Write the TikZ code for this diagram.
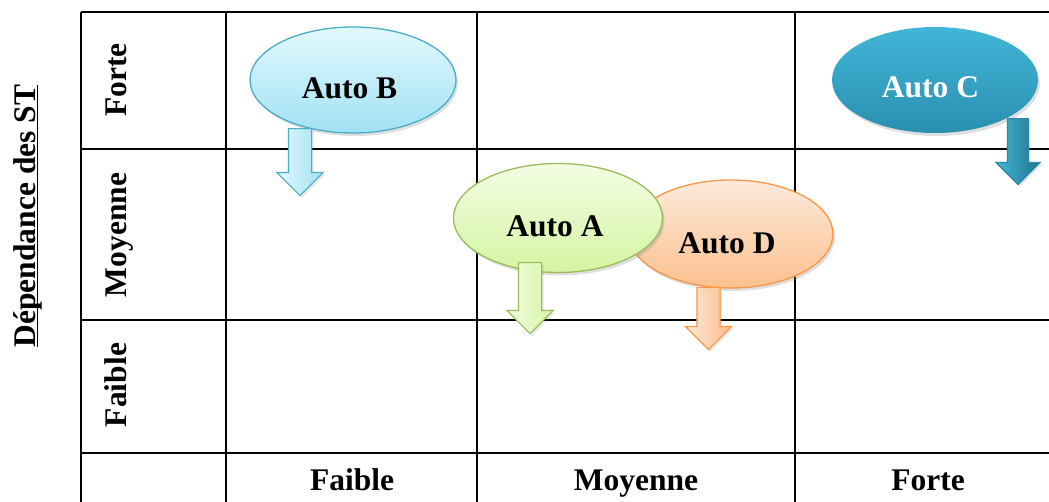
\documentclass[tikz,border=0pt]{standalone}
\usepackage{fontspec}
\setmainfont{Liberation Serif}
\usetikzlibrary{shapes.geometric,shapes.arrows,shadows}
\definecolor{bordB}{HTML}{4BACC6}
\definecolor{hautB}{HTML}{E2F8FD}
\definecolor{basB}{HTML}{A2E1F4}
\definecolor{bordA}{HTML}{9BBB59}
\definecolor{hautA}{HTML}{F3FDE4}
\definecolor{basA}{HTML}{D4F4A2}
\definecolor{bordD}{HTML}{F79646}
\definecolor{hautD}{HTML}{FDEADB}
\definecolor{basD}{HTML}{FBC08E}
\definecolor{hautC}{HTML}{42B6D8}
\definecolor{basC}{HTML}{2A8FB0}
\definecolor{bordC}{HTML}{2B8AA8}

\begin{document}
\begin{tikzpicture}[x=1pt, y=-1pt,
  grille/.style={line width=1.8pt},
  titre/.style={font=\fontsize{31.5}{36}\selectfont\bfseries, inner sep=0pt},
  bulle/.style={ellipse, minimum width=206pt, minimum height=106pt, line width=1.3pt,
    drop shadow={opacity=0.25, shadow xshift=2pt, shadow yshift=-3pt}},
  fleche/.style={single arrow, rotate=-90, anchor=tail, minimum width=45pt, minimum height=67pt,
    single arrow head extend=11.5pt, inner xsep=0pt, inner ysep=11pt, line width=1.2pt,
    drop shadow={opacity=0.2, shadow xshift=2pt, shadow yshift=-2pt}}]
\useasboundingbox (0,0) rectangle (1049,501);
\clip (0,0) rectangle (1049,501);
% tableau
\draw[grille] (81,12) -- (1052,12) (81,149) -- (1052,149) (81,320) -- (1052,320) (81,453) -- (1052,453);
\draw[grille] (81,12) -- (81,504) (226,12) -- (226,504) (477,12) -- (477,504) (795,12) -- (795,504);
% axes
\node[titre, rotate=90, anchor=base] (dep) at (35,216) {Dépendance des ST};
\draw[line width=1.6pt] ([xshift=2.5pt]dep.base west) -- ([xshift=2.5pt]dep.base east);
\node[titre, rotate=90, anchor=base] (lForte) at (126,80) {Forte};
\node[titre, rotate=90, anchor=base] (lMoyenne) at (126,235) {Moyenne};
\node[titre, rotate=90, anchor=base] (lFaible) at (126,385) {Faible};
\node[titre, anchor=base] (cFaible) at (352,490) {Faible};
\node[titre, anchor=base] (cMoyenne) at (636,490) {Moyenne};
\node[titre, anchor=base] (cForte) at (928,490) {Forte};
% Auto D puis Auto A par-dessus
\node[bulle, draw=bordD, top color=hautD, bottom color=basD, minimum width=204pt, minimum height=108pt] (ellD) at (731,234) {};
\node[fleche, draw=bordD, left color=hautD, right color=basD!90!bordD, minimum height=62pt, minimum width=44pt] (flD) at (708.5,287) {};
\node[titre] (tD) at ([shift={(-4,9)}]ellD.center) {Auto D};
\node[bulle, draw=bordA, top color=hautA, bottom color=basA, minimum width=209pt, minimum height=109pt] (ellA) at (558,218) {};
\node[fleche, draw=bordA, left color=hautA, right color=basA, minimum height=71pt] (flA) at (530,262) {};
\node[titre] (tA) at ([shift={(-3,8)}]ellA.center) {Auto A};
% Auto B
\node[bulle, draw=bordB, top color=hautB, bottom color=basB] (ellB) at (353,80) {};
\node[fleche, draw=bordB, left color=hautB, right color=basB] (flB) at (300,128) {};
\node[titre] (tB) at ([shift={(-3.5,8.5)}]ellB.center) {Auto B};
% Auto C
\node[bulle, draw=none, top color=hautC, bottom color=basC] (ellC) at (935,80) {};
\node[fleche, draw=bordC, left color=hautC, right color=basC!80!black, minimum height=66pt, minimum width=42pt, inner ysep=10pt] (flC) at (1018,118) {};
\node[titre, text=white] (tC) at ([shift={(-4.5,7)}]ellC.center) {Auto C};
\end{tikzpicture}
\end{document}
